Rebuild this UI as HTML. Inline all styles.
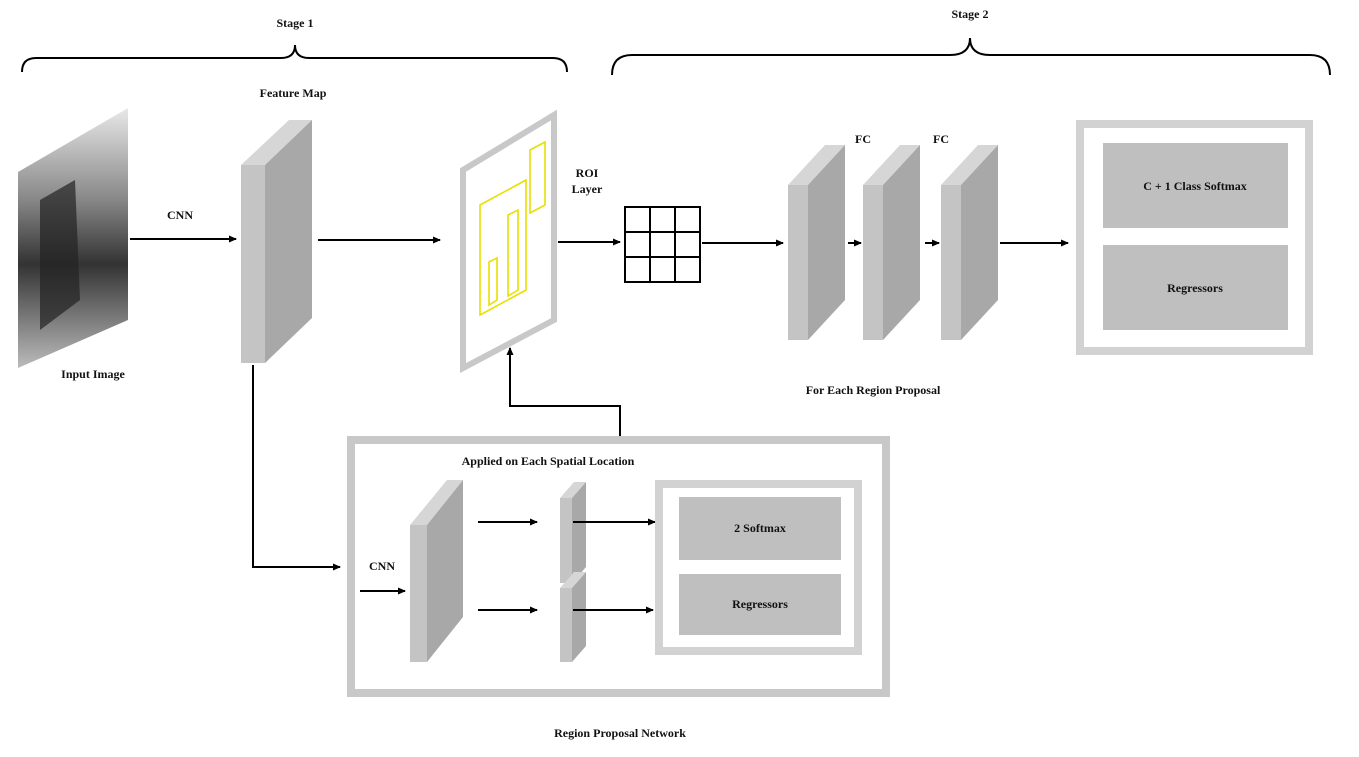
<!DOCTYPE html>
<html><head><style>body{margin:0;background:#fff}svg{display:block}text{font-family:"Liberation Serif",serif;font-weight:bold;font-size:12px;fill:#111}</style></head><body>
<svg width="1359" height="757" viewBox="0 0 1359 757">
<defs>
<marker id="a" markerWidth="8" markerHeight="8" refX="7" refY="4" orient="auto" markerUnits="userSpaceOnUse"><path d="M0,0.5 L8,4 L0,7.5z" fill="#000"/></marker>
<linearGradient id="img" x1="0" y1="0" x2="0" y2="1"><stop offset="0" stop-color="#e8e8e8"/><stop offset="0.35" stop-color="#888"/><stop offset="0.6" stop-color="#333"/><stop offset="1" stop-color="#bbb"/></linearGradient>
</defs>
<!-- braces -->
<path d="M22,72 Q22,58 36,58 L281,58 Q295,58 295,45 Q295,58 309,58 L553,58 Q567,58 567,72" fill="none" stroke="#000" stroke-width="2"/>
<path d="M612,75 Q612,55 632,55 L950,55 Q970,55 970,38 Q970,55 990,55 L1310,55 Q1330,55 1330,75" fill="none" stroke="#000" stroke-width="2"/>
<text x="295" y="27" text-anchor="middle">Stage 1</text>
<text x="970" y="18" text-anchor="middle">Stage 2</text>
<!-- input image -->
<polygon points="18,172 128,108 128,320 18,368" fill="url(#img)"/>
<polygon points="40,200 75,180 80,300 40,330" fill="#222" opacity="0.7"/>
<text x="93" y="378" text-anchor="middle">Input Image</text>
<text x="180" y="219" text-anchor="middle">CNN</text>
<line x1="130" y1="239" x2="236" y2="239" stroke="#000" stroke-width="2" marker-end="url(#a)"/>
<!-- feature map -->
<polygon points="241,165 289,120 312,120 265,165" fill="#d6d6d6"/>
<polygon points="265,165 312,120 312,318 265,363" fill="#a8a8a8"/>
<rect x="241" y="165" width="24" height="198" fill="#c4c4c4"/>
<text x="293" y="97" text-anchor="middle">Feature Map</text>
<line x1="318" y1="240" x2="440" y2="240" stroke="#000" stroke-width="2" marker-end="url(#a)"/>
<!-- ROI -->
<polygon points="463,170 554,115 554,320 463,368" fill="#fff" stroke="#c8c8c8" stroke-width="6"/>
<g fill="none" stroke="#e8e000" stroke-width="1.6">
<polygon points="480,205 526,180 526,290 480,315"/>
<polygon points="530,150 545,142 545,205 530,213"/>
<polygon points="508,215 518,210 518,290 508,296"/>
<polygon points="489,262 497,258 497,300 489,305"/>
</g>
<text x="587" y="177" text-anchor="middle">ROI</text>
<text x="587" y="193" text-anchor="middle">Layer</text>
<line x1="558" y1="242" x2="620" y2="242" stroke="#000" stroke-width="2" marker-end="url(#a)"/>
<!-- grid -->
<g stroke="#000" stroke-width="2" fill="none">
<rect x="625" y="207" width="75" height="75"/>
<line x1="650" y1="207" x2="650" y2="282"/><line x1="675" y1="207" x2="675" y2="282"/>
<line x1="625" y1="232" x2="700" y2="232"/><line x1="625" y1="257" x2="700" y2="257"/>
</g>
<line x1="702" y1="243" x2="783" y2="243" stroke="#000" stroke-width="2" marker-end="url(#a)"/>
<!-- FC blocks -->
<g>
<polygon points="788,185 825,145 845,145 808,185" fill="#d6d6d6"/><polygon points="808,185 845,145 845,300 808,340" fill="#a8a8a8"/><rect x="788" y="185" width="20" height="155" fill="#c4c4c4"/>
<polygon points="863,185 900,145 920,145 883,185" fill="#d6d6d6"/><polygon points="883,185 920,145 920,300 883,340" fill="#a8a8a8"/><rect x="863" y="185" width="20" height="155" fill="#c4c4c4"/>
<polygon points="941,185 978,145 998,145 961,185" fill="#d6d6d6"/><polygon points="961,185 998,145 998,300 961,340" fill="#a8a8a8"/><rect x="941" y="185" width="20" height="155" fill="#c4c4c4"/>
</g>
<text x="863" y="143" text-anchor="middle">FC</text>
<text x="941" y="143" text-anchor="middle">FC</text>
<line x1="848" y1="243" x2="861" y2="243" stroke="#000" stroke-width="2" marker-end="url(#a)"/>
<line x1="925" y1="243" x2="939" y2="243" stroke="#000" stroke-width="2" marker-end="url(#a)"/>
<line x1="1000" y1="243" x2="1068" y2="243" stroke="#000" stroke-width="2" marker-end="url(#a)"/>
<text x="873" y="394" text-anchor="middle">For Each Region Proposal</text>
<!-- output box -->
<rect x="1080" y="124" width="229" height="227" fill="#fff" stroke="#d2d2d2" stroke-width="8"/>
<rect x="1103" y="143" width="185" height="85" fill="#bfbfbf"/>
<rect x="1103" y="245" width="185" height="85" fill="#bfbfbf"/>
<text x="1195" y="190" text-anchor="middle">C + 1 Class Softmax</text>
<text x="1195" y="292" text-anchor="middle">Regressors</text>
<!-- RPN connectors -->
<polyline points="253,365 253,567 340,567" fill="none" stroke="#000" stroke-width="2" marker-end="url(#a)"/>
<polyline points="620,436 620,406 510,406 510,348" fill="none" stroke="#000" stroke-width="2" marker-end="url(#a)"/>
<!-- RPN box -->
<rect x="351" y="440" width="535" height="253" fill="#fff" stroke="#c8c8c8" stroke-width="8"/>
<text x="548" y="465" text-anchor="middle">Applied on Each Spatial Location</text>
<text x="382" y="570" text-anchor="middle">CNN</text>
<line x1="360" y1="591" x2="405" y2="591" stroke="#000" stroke-width="2" marker-end="url(#a)"/>
<polygon points="410,525 447,480 463,480 427,525" fill="#d6d6d6"/><polygon points="427,525 463,480 463,617 427,662" fill="#a8a8a8"/><rect x="410" y="525" width="17" height="137" fill="#c4c4c4"/>
<polygon points="560,498 574,482 586,482 572,498" fill="#d6d6d6"/><polygon points="572,498 586,482 586,567 572,583" fill="#a8a8a8"/><rect x="560" y="498" width="12" height="85" fill="#c4c4c4"/>
<polygon points="560,588 574,572 586,572 572,588" fill="#d6d6d6"/><polygon points="572,588 586,572 586,646 572,662" fill="#a8a8a8"/><rect x="560" y="588" width="12" height="74" fill="#c4c4c4"/>
<line x1="478" y1="522" x2="537" y2="522" stroke="#000" stroke-width="2" marker-end="url(#a)"/>
<line x1="573" y1="522" x2="655" y2="522" stroke="#000" stroke-width="2" marker-end="url(#a)"/>
<line x1="478" y1="610" x2="537" y2="610" stroke="#000" stroke-width="2" marker-end="url(#a)"/>
<line x1="573" y1="610" x2="653" y2="610" stroke="#000" stroke-width="2" marker-end="url(#a)"/>
<rect x="659" y="484" width="199" height="167" fill="#fff" stroke="#d2d2d2" stroke-width="8"/>
<rect x="679" y="497" width="162" height="63" fill="#bfbfbf"/>
<rect x="679" y="574" width="162" height="61" fill="#bfbfbf"/>
<text x="760" y="532" text-anchor="middle">2 Softmax</text>
<text x="760" y="608" text-anchor="middle">Regressors</text>
<text x="620" y="737" text-anchor="middle">Region Proposal Network</text>
</svg>
</body></html>
